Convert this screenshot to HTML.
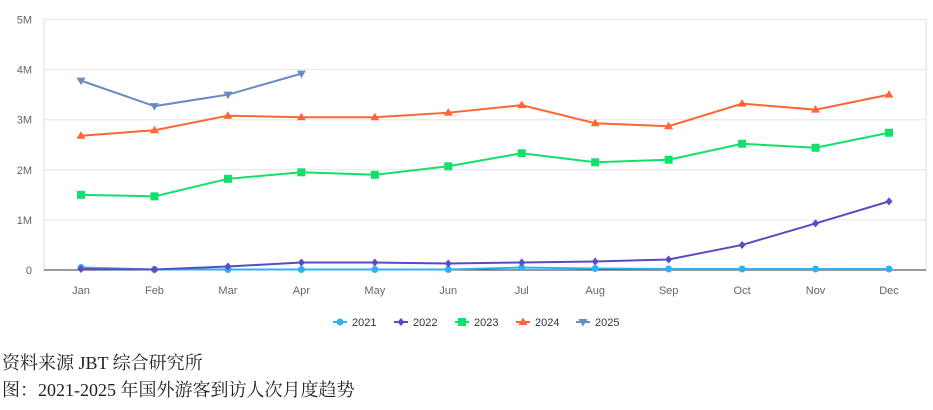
<!DOCTYPE html>
<html><head><meta charset="utf-8"><style>
body{margin:0;background:#fff;width:933px;height:410px;overflow:hidden;position:relative}
svg{position:absolute;left:0;top:0}
.cap{position:absolute;left:2px;font-family:"Liberation Serif","Noto Serif CJK SC",serif;font-size:18px;color:#222;line-height:20px}
</style></head><body>
<svg id="chart" width="933" height="340"></svg>
<div class="cap" style="top:353px">资料来源 JBT 综合研究所</div>
<div class="cap" style="top:380px">图：2021-2025 年国外游客到访人次月度趋势</div>
<script>
const months=["Jan","Feb","Mar","Apr","May","Jun","Jul","Aug","Sep","Oct","Nov","Dec"];
const yTicks=[0,1,2,3,4,5];
const yTickLabels=["0","1M","2M","3M","4M","5M"];
const years=["2021","2022","2023","2024","2025"];
const s2021=[0.05,0.01,0.01,0.01,0.01,0.01,0.05,0.03,0.02,0.02,0.02,0.02];
const s2022=[0.02,0.01,0.07,0.15,0.15,0.13,0.15,0.17,0.21,0.50,0.93,1.37];
const s2023=[1.50,1.47,1.82,1.95,1.90,2.07,2.33,2.15,2.20,2.52,2.44,2.74];
const s2024=[2.68,2.79,3.08,3.05,3.05,3.14,3.29,2.93,2.87,3.32,3.20,3.50];
const s2025=[3.78,3.27,3.50,3.92];
const colors=["#2db2f6","#5a4bc4","#12e06a","#ff6633","#6a8bc4"];
const markers=["circle","diamond","square","triangle","tri-down"];
const L=44,R=926,T=19.5,B=270,X0=81,X1=889;
const xs=i=>X0+i*(X1-X0)/11, ys=v=>B-(v/5)*(B-T);
const svg=document.getElementById('chart');const NS="http://www.w3.org/2000/svg";
function mk(t,a,p){const e=document.createElementNS(NS,t);for(const k in a)e.setAttribute(k,a[k]);(p||svg).appendChild(e);return e;}
mk('rect',{x:L,y:T,width:R-L,height:B-T,fill:'none',stroke:'#ddd','stroke-width':1});
yTicks.forEach((v,i)=>{const y=ys(v);
 if(v>0){const g=mk('line',{x1:L,x2:R,y1:y,y2:y,stroke:'#e6e6e6','stroke-width':1});}
 const t=mk('text',{x:L-12,y:y+4,'text-anchor':'end','font-size':11,fill:'#666','font-family':'Liberation Sans, sans-serif'});t.textContent=yTickLabels[i];
 });
const ax=mk('line',{x1:L,x2:R,y1:B,y2:B,stroke:'#333','stroke-width':1});

months.forEach((m,i)=>{const t=mk('text',{x:xs(i),y:294,'text-anchor':'middle','font-size':11,fill:'#666','font-family':'Liberation Sans, sans-serif'});t.textContent=m;
 });
function marker(type,x,y,c,p){
 if(type==='circle')return mk('circle',{cx:x,cy:y,r:3.5,fill:c},p);
 if(type==='diamond')return mk('polygon',{points:`${x},${y-4} ${x+3.5},${y} ${x},${y+4} ${x-3.5},${y}`,fill:c},p);
 if(type==='square')return mk('rect',{x:x-4,y:y-4,width:8,height:8,fill:c},p);
 if(type==='triangle')return mk('polygon',{points:`${x},${y-4.5} ${x+4.5},${y+3} ${x-4.5},${y+3}`,fill:c},p);
 return mk('polygon',{points:`${x},${y+4.5} ${x+4.5},${y-3} ${x-4.5},${y-3}`,fill:c},p);}
[s2021,s2022,s2023,s2024,s2025].forEach((s,k)=>{
 const g=mk('g',{});
 const pl=mk('polyline',{points:s.map((v,i)=>xs(i)+','+ys(v)).join(' '),fill:'none',stroke:colors[k],'stroke-width':2},g);
 s.forEach((v,i)=>{const m=marker(markers[k],xs(i),ys(v),colors[k],g);});
});
const lx=[333,394,455,516,576];
years.forEach((yr,k)=>{const g=mk('g',{});
 mk('line',{x1:lx[k],x2:lx[k]+14,y1:322,y2:322,stroke:colors[k],'stroke-width':2},g);
 marker(markers[k],lx[k]+7,322,colors[k],g);
 const t=mk('text',{x:lx[k]+19,y:326,'font-size':11,fill:'#333','font-family':'Liberation Sans, sans-serif'},g);t.textContent=yr;});
</script>
</body></html>
